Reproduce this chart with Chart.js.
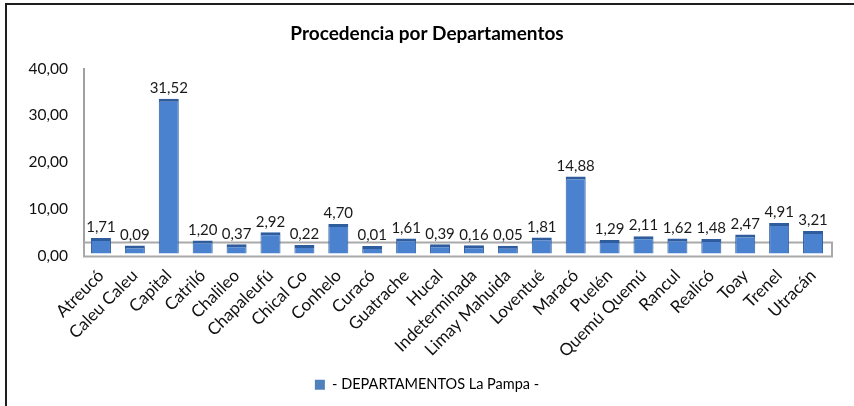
<!DOCTYPE html>
<html>
<head>
<meta charset="utf-8">
<script src="https://cdn.jsdelivr.net/npm/chart.js@4.4.1/dist/chart.umd.min.js"></script>
<style>
  html, body { margin: 0; padding: 0; background: #fff; overflow: hidden; }
  #wrap { position: relative; width: 854px; height: 406px; overflow: hidden; }
  #frame { position: absolute; left: 5px; top: 3px; width: 900px; height: 450px; border: 2px solid #1e1e1e; box-sizing: border-box; }
  #c { position: absolute; left: 0; top: 0; }
</style>
</head>
<body>
<div id="wrap">
  <div id="frame"></div>
  <canvas id="c" width="854" height="406"></canvas>
</div>
<script>
const categories = ["Atreucó","Caleu Caleu","Capital","Catriló","Chalileo","Chapaleufú","Chical Co","Conhelo","Curacó","Guatrache","Hucal","Indeterminada","Limay Mahuida","Loventué","Maracó","Puelén","Quemú Quemú","Rancul","Realicó","Toay","Trenel","Utracán"];
const values = [1.71,0.09,31.52,1.20,0.37,2.92,0.22,4.70,0.01,1.61,0.39,0.16,0.05,1.81,14.88,1.29,2.11,1.62,1.48,2.47,4.91,3.21];
const yTicks = [0,10,20,30,40];
const seriesName = "- DEPARTAMENTOS La Pampa -";
const chartTitle = "Procedencia por Departamentos";

const FONT = "Lato, 'Open Sans', sans-serif";
const fmt = v => v.toFixed(2).replace('.', ',');

const floorPlugin = {
  id: 'floor',
  beforeDatasetsDraw(chart) {
    const {ctx, chartArea, scales} = chart;
    const y0 = scales.y.getPixelForValue(0);
    ctx.save();
    ctx.strokeStyle = '#a9a9a9';
    ctx.lineWidth = 2;
    ctx.strokeRect(chartArea.left, y0 - 13, chartArea.right + 2 - chartArea.left, 14);
    ctx.restore();
  }
};

const labelPlugin = {
  id: 'valueLabels',
  afterDatasetsDraw(chart) {
    const {ctx} = chart;
    const meta = chart.getDatasetMeta(0);
    ctx.save();
    ctx.font = "15px " + FONT;
    ctx.fillStyle = '#1a1a1a';
    ctx.textAlign = 'center';
    ctx.textBaseline = 'bottom';
    meta.data.forEach((bar, i) => {
      ctx.fillText(fmt(values[i]), bar.x, bar.y - 3);
    });
    ctx.restore();
  }
};

new Chart(document.getElementById('c'), {
  type: 'bar',
  data: {
    labels: categories,
    datasets: [{
      label: seriesName,
      data: values,
      yAxisID: 'y2',
      base: -1.6,
      backgroundColor: '#4A82CF',
      borderColor: '#2F5C9C',
      borderWidth: {top: 3, left: 1, right: 1, bottom: 0},
      borderSkipped: false,
      barPercentage: 1,
      categoryPercentage: 0.59
    }]
  },
  options: {
    responsive: false,
    animation: false,
    devicePixelRatio: 1,
    layout: { padding: { left: 0, right: 0, top: 0, bottom: 4 } },
    plugins: {
      title: {
        display: true,
        text: chartTitle,
        color: '#000',
        font: { family: FONT, size: 19, weight: 'bold' },
        padding: { top: 22, bottom: 24 }
      },
      legend: {
        display: true,
        position: 'bottom',
        labels: {
          color: '#111',
          font: { family: FONT, size: 14.5 },
          boxWidth: 10,
          boxHeight: 10,
          padding: 10,
          generateLabels(chart) {
            return [{ text: seriesName, fillStyle: '#4F81BD', strokeStyle: '#4F81BD', lineWidth: 0, datasetIndex: 0 }];
          }
        }
      },
      tooltip: { enabled: false }
    },
    scales: {
      x: {
        grid: { display: false },
        border: { display: false },
        ticks: {
          color: '#111',
          font: { family: FONT, size: 17 },
          maxRotation: 45,
          minRotation: 45,
          autoSkip: false,
          padding: 2
        },
        afterFit(scale) { scale.height = 112; }
      },
      y: {
        min: 0,
        max: 40,
        afterBuildTicks(scale) { scale.ticks = yTicks.map(v => ({ value: v })); },
        grid: { display: false, drawTicks: false },
        border: { display: true, color: '#a0a0a0', width: 2 },
        ticks: {
          color: '#111',
          font: { family: FONT, size: 15.5 },
          padding: 16,
          callback: v => fmt(v)
        },
        afterFit(scale) { scale.width = 84; }
      },
      y2: {
        position: 'right',
        display: true,
        min: -2.04,
        max: 37.96,
        grid: { display: false, drawTicks: false },
        border: { display: false },
        ticks: { display: false },
        afterFit(scale) { scale.width = 24; }
      }
    }
  },
  plugins: [floorPlugin, labelPlugin]
});
</script>
</body>
</html>
